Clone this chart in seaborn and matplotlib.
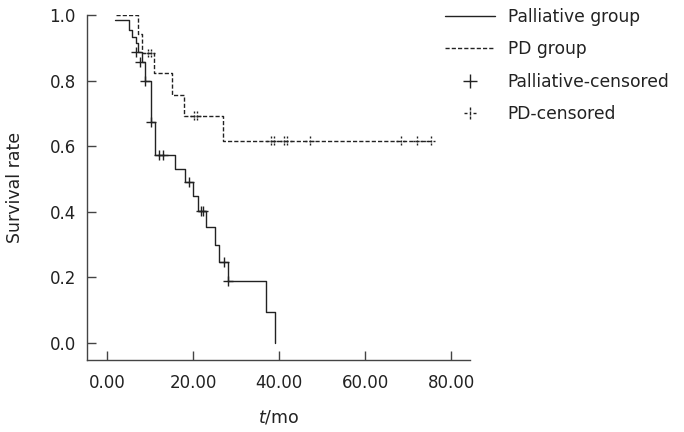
import numpy as np
import pandas as pd
import seaborn as sns
import matplotlib.pyplot as plt
from matplotlib.lines import Line2D
from matplotlib.path import Path

# Kaplan-Meier steps (time in months, survival after the step)
pal_t = [1.8, 5.0, 5.8, 6.6, 7.2, 8.2, 8.7, 10.1, 11.1, 15.7, 18.2, 20.0, 21.2, 23.0, 25.0, 26.0, 28.1, 36.9, 39.0]
pal_s = [0.985, 0.955, 0.935, 0.915, 0.888, 0.857, 0.80, 0.673, 0.573, 0.532, 0.492, 0.448, 0.403, 0.353, 0.300, 0.248, 0.190, 0.094, 0.0]

pd_t = [2.0, 7.1, 8.0, 10.9, 15.0, 17.9, 27.0, 75.2]
pd_s = [1.0, 0.944, 0.885, 0.825, 0.756, 0.693, 0.617, 0.617]

# censored observations
pal_cens_t = [6.8, 7.7, 8.7, 10.3, 12.1, 12.9, 19.0, 21.8, 22.3, 27.1, 28.0]
pal_cens_s = [0.888, 0.857, 0.80, 0.673, 0.573, 0.573, 0.492, 0.403, 0.403, 0.248, 0.190]

pd_cens_t = [9.5, 10.2, 20.2, 20.9, 38.0, 38.8, 41.1, 41.9, 47.1, 68.2, 72.1, 75.2]
pd_cens_s = [0.885, 0.885, 0.693, 0.693, 0.617, 0.617, 0.617, 0.617, 0.617, 0.617, 0.617, 0.617]

xticks = [0, 20, 40, 60, 80]
yticks = [0.0, 0.2, 0.4, 0.6, 0.8, 1.0]

sns.set_style('ticks')
plt.rcParams['font.family'] = ['DejaVu Sans']
plt.rcParams['font.size'] = 12

ink = '#222222'
fig = plt.figure(figsize=(6.84, 4.32), dpi=100)
ax = fig.add_axes([0.127, 0.1667, 0.560, 0.798])

# dashed plus marker for PD censoring
verts = [(0, -1), (0, -0.55), (0, -0.25), (0, 0.25), (0, 0.55), (0, 1),
         (-1, 0), (-0.55, 0), (0.55, 0), (1, 0)]
codes = [Path.MOVETO, Path.LINETO] * 5
dash_plus = Path(verts, codes)

sns.lineplot(x=pal_t, y=pal_s, ax=ax, color=ink, lw=1.0, drawstyle='steps-post',
             estimator=None, sort=False)
sns.lineplot(x=pd_t, y=pd_s, ax=ax, color=ink, lw=1.0, drawstyle='steps-post',
             estimator=None, sort=False, dashes=False)
ax.lines[-1].set_dashes((3, 1.5))

sns.scatterplot(x=pal_cens_t, y=pal_cens_s, ax=ax, marker='+', s=50,
                color=ink, linewidth=1.0)
sns.scatterplot(x=pd_cens_t, y=pd_cens_s, ax=ax, marker=dash_plus, s=40,
                facecolor='none', edgecolor=ink, linewidth=1.0)

ax.set_xlim(-4.7, 84.3)
ax.set_ylim(-0.052, 1.0)
ax.set_xticks(xticks)
ax.set_xticklabels(['%.2f' % v for v in xticks])
ax.set_yticks(yticks)
ax.set_yticklabels(['%.1f' % v for v in yticks])
ax.tick_params(direction='in', length=6.5, width=1.0, colors='#444444',
               labelcolor=ink, labelsize=12, pad=8)
ax.tick_params(axis='x', pad=10)
for side in ['left', 'bottom']:
    ax.spines[side].set_color('#444444')
    ax.spines[side].set_linewidth(1.0)
sns.despine(ax=ax)

ax.set_xlabel(r'$t$/mo', fontsize=12.5, color=ink, labelpad=12)
ax.set_ylabel('Survival rate', fontsize=12.5, color=ink, labelpad=18)

handles = [
    Line2D([], [], color=ink, lw=1.0),
    Line2D([], [], color=ink, lw=1.0, dashes=(3, 1.5)),
    Line2D([], [], color=ink, lw=0, marker='+', markersize=10, markeredgewidth=1.0),
    Line2D([], [], color=ink, lw=0, marker=dash_plus, markersize=9,
           markerfacecolor='none', markeredgewidth=1.0),
]
labels = ['Palliative group', 'PD group', 'Palliative-censored', 'PD-censored']
leg = ax.legend(handles, labels, loc='upper left', bbox_to_anchor=(0.6506, 0.982),
                bbox_transform=fig.transFigure, frameon=False, fontsize=12.3,
                handlelength=2.95, handletextpad=0.72, labelspacing=0.85,
                borderpad=0, borderaxespad=0)
for txt in leg.get_texts():
    txt.set_color(ink)

fig.savefig('out.png', dpi=100)
